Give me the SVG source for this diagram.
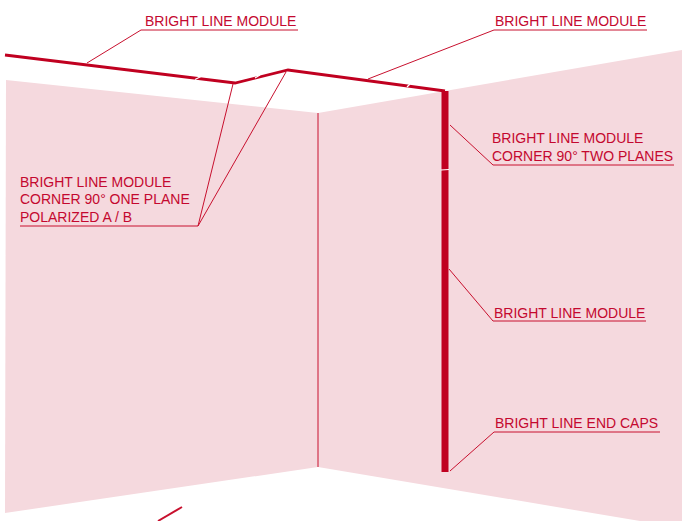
<svg xmlns="http://www.w3.org/2000/svg" width="682" height="521" viewBox="0 0 682 521">
<style>
.wall{fill:#f5d9de;stroke:none}
.lbl{font-family:"Liberation Sans",Arial,sans-serif;font-size:14px;fill:#c4082f}
.lead{fill:none;stroke:#c8102e;stroke-width:1}
.strip{fill:none;stroke:#c00020;stroke-width:2.800}
.gap{fill:none;stroke:#fff;stroke-width:1.200}
</style>
<rect width="682" height="521" fill="#fff"/>
<g id="walls">
<polygon class="wall" points="6,80 318,113 318,467 5,513"/>
<polygon class="wall" points="318,113 682,50 682,521 640,521 318,467"/>
</g>
<g id="connectors">
<line class="lead" x1="318" y1="113" x2="318" y2="467"/>
<polyline class="lead" points="87,63 141,30 298,30"/>
<polyline class="lead" points="368,79 494,30 647,30"/>
<polyline class="lead" points="20,226 198,226 233,84"/>
<line class="lead" x1="198" y1="226" x2="286" y2="72"/>
<polyline class="lead" points="450,125 493,165 674,165"/>
<polyline class="lead" points="449,269 493,321 646,321"/>
<polyline class="lead" points="450,471 494,432 660,432"/>
<line x1="182" y1="507" x2="158" y2="521" stroke="#c8102e" stroke-width="2"/>
</g>
<g id="bright-line-strip">
<polyline class="strip" points="5,55 235,83 288,70 445,91"/>
<rect x="441.500" y="91" width="7" height="381" fill="#c00020"/>
<line class="gap" x1="195" y1="79.500" x2="201" y2="76.500"/>
<line class="gap" x1="255" y1="78" x2="260" y2="75"/>
<line class="gap" x1="407" y1="87" x2="410" y2="84"/>
<line class="gap" x1="441" y1="170" x2="449" y2="169.500"/>
</g>
<g id="label-top-left"><text class="lbl" x="145" y="25.500">BRIGHT LINE MODULE</text></g>
<g id="label-top-right"><text class="lbl" x="495" y="25.500">BRIGHT LINE MODULE</text></g>
<g id="label-corner-two-planes">
<text class="lbl" x="492" y="143.300">BRIGHT LINE MODULE</text>
<text class="lbl" x="492" y="160.500">CORNER 90° TWO PLANES</text>
</g>
<g id="label-corner-one-plane">
<text class="lbl" x="20" y="186.800">BRIGHT LINE MODULE</text>
<text class="lbl" x="20" y="204.300">CORNER 90° ONE PLANE</text>
<text class="lbl" x="20" y="221.700">POLARIZED A / B</text>
</g>
<g id="label-module"><text class="lbl" x="494" y="318.300">BRIGHT LINE MODULE</text></g>
<g id="label-end-caps"><text class="lbl" x="495" y="427.500">BRIGHT LINE END CAPS</text></g>
</svg>
